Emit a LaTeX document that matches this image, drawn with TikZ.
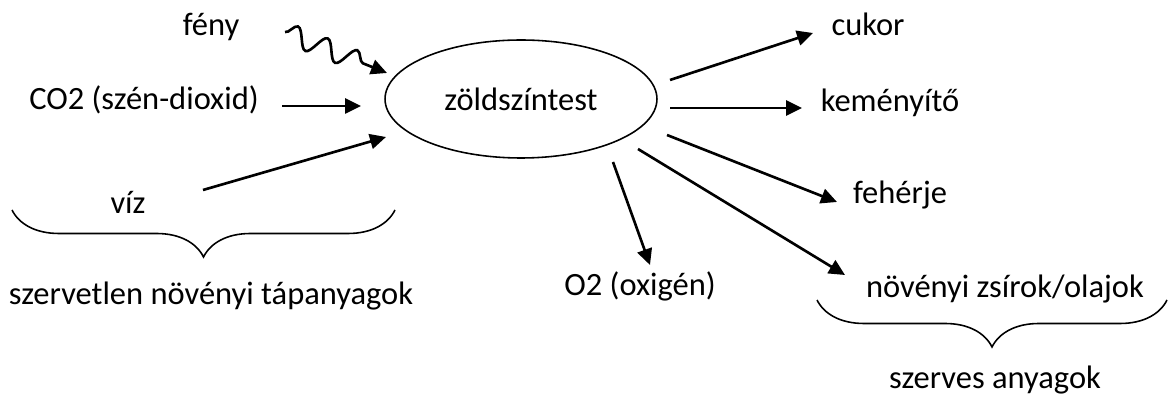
\documentclass[tikz,border=0pt]{standalone}
\usepackage{fontspec}
\setmainfont{Carlito}
\usetikzlibrary{arrows.meta,shapes.geometric,decorations.pathmorphing,decorations.pathreplacing}

\begin{document}
\begin{tikzpicture}
[
	x	= 0.02cm,	% one unit is one pixel of the sketch
	y	= -0.02cm,	% y runs downwards, as in the sketch
	%
	%
	% ----------- options for the texts --------------
	every node/.style =
	{
		font		= \fontsize{18.5}{22}\selectfont,
		inner sep	= 0pt
	},
	%
	term/.style =
	{
		anchor		= base
	},
	%
	organelle/.style =
	{
		ellipse,
		draw,
		line width		= 0.9pt,
		minimum width	= 5.44cm,
		minimum height	= 2.36cm
	},
	%
	% ----------- options for the connectors --------------
	flow/.style =
	{
		draw,
		line width	= 1.5pt,
		-{Triangle[length=3.2mm, width=3mm]}
	},
	%
	light/.style =
	{
		flow,
		decorate,
		decoration	= {snake, segment length=6.4mm, amplitude=2mm, post length=3.6mm}
	},
	%
	bracket/.style =
	{
		draw,
		line width	= 0.9pt,
		decorate,
		decoration	= {brace, mirror, amplitude=0.94cm}
	}
]

\useasboundingbox (0,0) rectangle (1170,401);

% the organelle
\node [organelle] (plastid) at (521,99) {zöldszíntest};

% inputs
\node [term] (feny)  at (211,36)  {fény};
\node [term] (co2)   at (144,110) {CO2 (szén-dioxid)};
\node [term] (viz)   at (128,214) {víz};
\node [term] (inorg) at (211,305) {szervetlen növényi tápanyagok};

% outputs
\node [term] (cukor)   at (868,36)   {cukor};
\node [term] (keme)    at (890,112)  {keményítő};
\node [term] (feherje) at (900,204)  {fehérje};
\node [term] (o2)      at (640,296)  {O2 (oxigén)};
\node [term] (zsir)    at (1005,298) {növényi zsírok/olajok};
\node [term] (org)     at (995,389)  {szerves anyagok};

% ends of the arrows
\coordinate (fenyA)    at (285,32);
\coordinate (fenyB)    at (387,73);
\coordinate (co2A)     at (282,106);
\coordinate (co2B)     at (361,106);
\coordinate (vizA)     at (203,190);
\coordinate (vizB)     at (386,137);
\coordinate (cukorA)   at (670,80);
\coordinate (cukorB)   at (813,33);
\coordinate (kemeA)    at (670,108);
\coordinate (kemeB)    at (802,108);
\coordinate (feherjeA) at (667,135);
\coordinate (feherjeB) at (837,202);
\coordinate (o2A)      at (613,162);
\coordinate (o2B)      at (650,265);
\coordinate (zsirA)    at (638,149);
\coordinate (zsirB)    at (845,275);

% ends of the braces
\coordinate (inorgL) at (12,210);
\coordinate (inorgR) at (395,210);
\coordinate (orgL)   at (817,300);
\coordinate (orgR)   at (1167,300);

% arrows in
\draw [light] (fenyA) -- (fenyB);
\draw [flow]  (co2A)  -- (co2B);
\draw [flow]  (vizA)  -- (vizB);

% arrows out
\draw [flow] (cukorA)   -- (cukorB);
\draw [flow] (kemeA)    -- (kemeB);
\draw [flow] (feherjeA) -- (feherjeB);
\draw [flow] (o2A)      -- (o2B);
\draw [flow] (zsirA)    -- (zsirB);

% braces
\draw [bracket] (inorgL) -- (inorgR);
\draw [bracket] (orgL)   -- (orgR);

\end{tikzpicture}
\end{document}
